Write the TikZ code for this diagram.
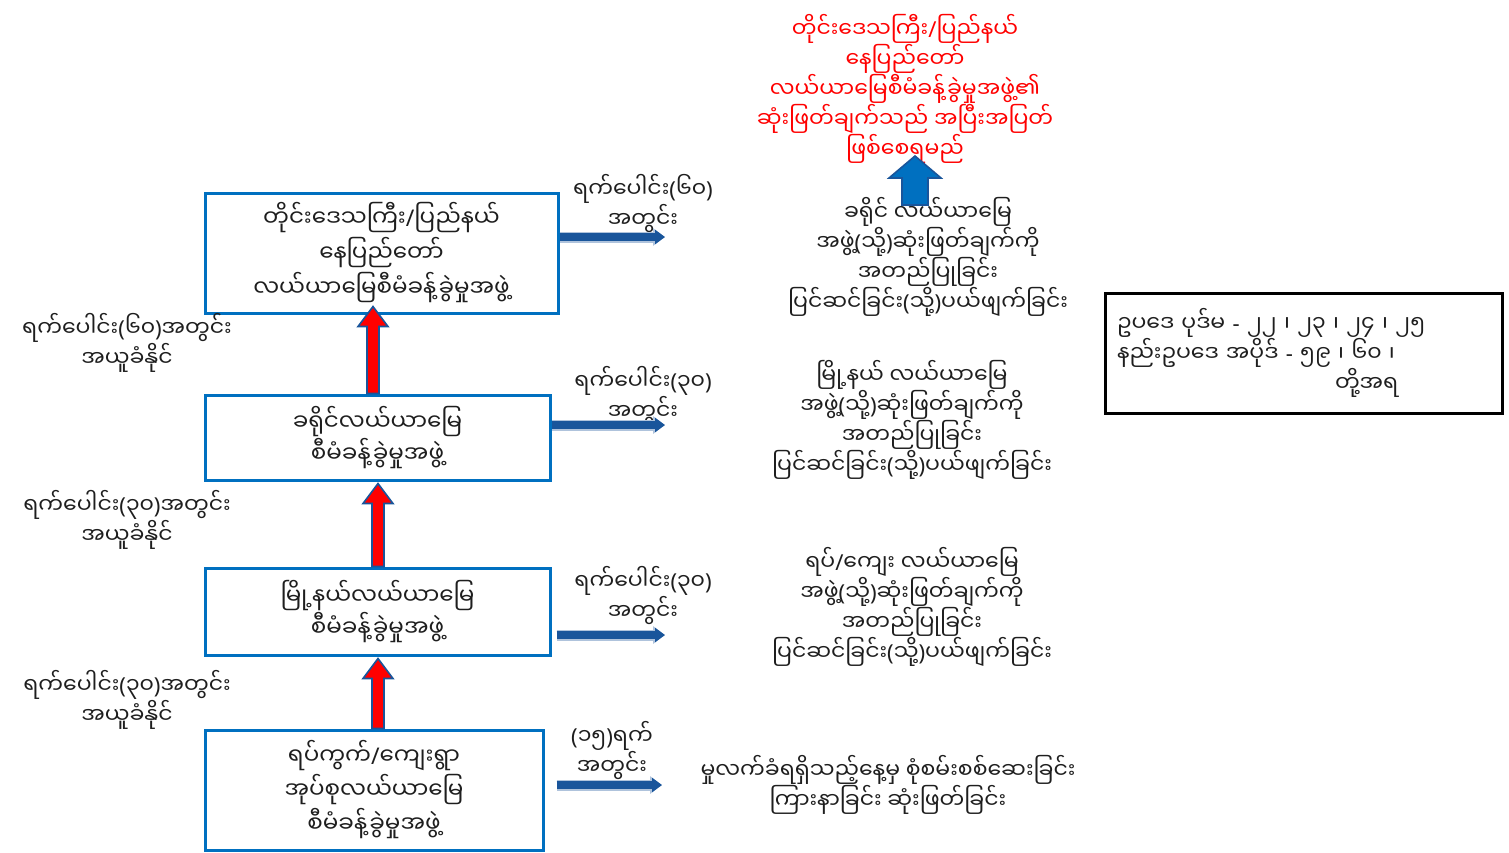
\documentclass[tikz,border=0pt]{standalone}
\usepackage{fontspec}
\newfontfamily\my[Script=Myanmar]{Noto Sans Myanmar UI}
\newfontfamily\lat{Noto Sans}
\newcommand\LP{{\lat(}}
\newcommand\RP{{\lat)}}
\newcommand\SL{{\lat/}}
\newcommand\HY{{\lat-}}
\usetikzlibrary{arrows.meta,calc}
\definecolor{boxblue}{RGB}{0,112,192}
\definecolor{arrdark}{RGB}{25,85,155}
\definecolor{arrlight}{RGB}{175,195,220}
\definecolor{txt}{RGB}{30,30,30}
\newcommand\uparr[2]{%
  \filldraw[fill=red, draw=arrdark, line width=0.8pt] let \p1=#1, \p2=#2 in
    (\x1-3pt,\y1) -- (\x1-3pt,\y2-10pt) -- (\x1-7.5pt,\y2-10pt) -- (\x1,\y2)
    -- (\x1+7.5pt,\y2-10pt) -- (\x1+3pt,\y2-10pt) -- (\x1+3pt,\y1) -- cycle;}
\begin{document}
\begin{tikzpicture}[x=0.5pt,y=-0.5pt,
  every node/.style={font=\my\fontsize{11}{15}\selectfont, text=txt, align=center, inner sep=0pt},
  fbox/.style={draw=boxblue, line width=1.5pt},
  harrow/.style={line width=4pt, arrdark, -{Triangle[length=5pt,width=7pt]}},
  hhalo/.style={line width=5.5pt, arrlight, -{Triangle[length=6pt,width=8.5pt]}},
  redtext/.style={text=red},
]
\useasboundingbox (0,0) rectangle (1509,852);
\fill[white] (0,0) rectangle (1509,852);

% boxes
\node[fbox, minimum width=176.5pt, minimum height=60pt,
      font=\my\fontsize{11.5}{17.5}\selectfont] (b1) at (381.5,253)
  {တိုင်းဒေသကြီး\SL ပြည်နယ်\\နေပြည်တော်\\လယ်ယာမြေစီမံခန့်ခွဲမှုအဖွဲ့};
\node[fbox, minimum width=172.5pt, minimum height=42.5pt, font=\my\fontsize{11.5}{16}\selectfont] (b2) at (377.5,437.5)
  {ခရိုင်လယ်ယာမြေ\\စီမံခန့်ခွဲမှုအဖွဲ့};
\node[fbox, minimum width=172.5pt, minimum height=43.5pt, font=\my\fontsize{11.5}{16}\selectfont] (b3) at (377.5,611.5)
  {မြို့နယ်လယ်ယာမြေ\\စီမံခန့်ခွဲမှုအဖွဲ့};
\node[fbox, minimum width=169pt, minimum height=60pt, font=\my\fontsize{11.5}{17}\selectfont] (b4) at (374,790)
  {ရပ်ကွက်\SL ကျေးရွာ\\အုပ်စုလယ်ယာမြေ\\စီမံခန့်ခွဲမှုအဖွဲ့};

% red up arrows
\uparr{($(b2.north)+(-4.5,0)$)}{($(b1.south)+(0,-8)$)}
\uparr{($(b3.north)+(0.5,0)$)}{($(b2.south)+(0,2)$)}
\uparr{($(b4.north)+(4,0)$)}{($(b3.south)+(0,2)$)}

% left labels
\node (l1) at (127,343) {ရက်ပေါင်း\LP ၆၀\RP အတွင်း\\အယူခံနိုင်};
\node (l2) at (127,520) {ရက်ပေါင်း\LP ၃၀\RP အတွင်း\\အယူခံနိုင်};
\node (l3) at (127,700) {ရက်ပေါင်း\LP ၃၀\RP အတွင်း\\အယူခံနိုင်};

% right labels
\node (r1) at (643,203) {ရက်ပေါင်း\LP ၆၀\RP\\အတွင်း};
\node (r2) at (643,395) {ရက်ပေါင်း\LP ၃၀\RP\\အတွင်း};
\node (r3) at (643,595) {ရက်ပေါင်း\LP ၃၀\RP\\အတွင်း};
\node (r4) at (612,750) {\LP ၁၅\RP ရက်\\အတွင်း};

% horizontal arrows
\coordinate (e1) at (665,237);
\coordinate (e2) at (665,425);
\coordinate (e3) at (665,635);
\coordinate (e4) at (662,785);
\foreach \b/\e/\s in {b1/e1/0pt, b2/e2/0pt, b3/e3/2.5pt, b4/e4/6pt}{
  \draw[hhalo, shorten <=\s] (\b.east |- \e) -- (\e);
  \draw[harrow, shorten <=\s] (\b.east |- \e) -- (\e);
}

% right texts
\node (t1) at (928,257) {ခရိုင် လယ်ယာမြေ\\အဖွဲ့\LP သို့\RP ဆုံးဖြတ်ချက်ကို\\အတည်ပြုခြင်း\\ပြင်ဆင်ခြင်း\LP သို့\RP ပယ်ဖျက်ခြင်း};
\node (t2) at (912,420) {မြို့နယ် လယ်ယာမြေ\\အဖွဲ့\LP သို့\RP ဆုံးဖြတ်ချက်ကို\\အတည်ပြုခြင်း\\ပြင်ဆင်ခြင်း\LP သို့\RP ပယ်ဖျက်ခြင်း};
\node (t3) at (912,607) {ရပ်\SL ကျေး လယ်ယာမြေ\\အဖွဲ့\LP သို့\RP ဆုံးဖြတ်ချက်ကို\\အတည်ပြုခြင်း\\ပြင်ဆင်ခြင်း\LP သို့\RP ပယ်ဖျက်ခြင်း};
\node (t4) at (888,785) {မှုလက်ခံရရှိသည့်နေ့မှ စုံစမ်းစစ်ဆေးခြင်း\\ကြားနာခြင်း ဆုံးဖြတ်ခြင်း};

% red final text
\node[redtext] (fin) at (905,89) {တိုင်းဒေသကြီး\SL ပြည်နယ်\\နေပြည်တော်\\လယ်ယာမြေစီမံခန့်ခွဲမှုအဖွဲ့၏\\ဆုံးဖြတ်ချက်သည် အပြီးအပြတ်\\ဖြစ်စေရမည်};

% blue up block arrow
\coordinate (ua) at (915,205);
\coordinate (ub) at (915,156);
\filldraw[fill=boxblue, draw=arrdark, line width=0.8pt] let \p1=(ua), \p2=(ub) in
  (\x1-6.5pt,\y1) -- (\x1-6.5pt,\y2-11pt) -- (\x1-13pt,\y2-11pt) -- (\x1,\y2)
  -- (\x1+13pt,\y2-11pt) -- (\x1+6.5pt,\y2-11pt) -- (\x1+6.5pt,\y1) -- cycle;

% law reference box
\node[draw=black, line width=1.5pt, minimum width=198.5pt, minimum height=60pt,
      text width=186.5pt, inner xsep=6pt, align=left] (law) at (1303.5,353)
  {ဥပဒေ ပုဒ်မ \HY\ ၂၂ ၊ ၂၃ ၊ ၂၄ ၊ ၂၅\\နည်းဥပဒေ  အပိုဒ် \HY\ ၅၉ ၊ ၆၀ ၊\\\hspace*{109pt}တို့အရ};
\end{tikzpicture}
\end{document}
